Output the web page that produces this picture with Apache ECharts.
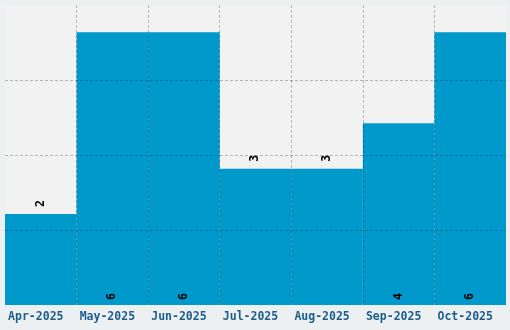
<!DOCTYPE html>
<html><head><meta charset="utf-8">
<script src="https://cdn.jsdelivr.net/npm/echarts@6/dist/echarts.min.js"></script>
<style>html,body{margin:0;padding:0;background:#edf0f1;}#c{width:510px;height:330px;}</style>
</head><body><div id="c"></div>
<script>
const categories = ['Apr-2025','May-2025','Jun-2025','Jul-2025','Aug-2025','Sep-2025','Oct-2025'];
const values = [2, 6, 6, 3, 3, 4, 6];
const labelPositions = ['top','insideBottom','insideBottom','top','top','insideBottom','insideBottom'];

const chart = echarts.init(document.getElementById('c'), null, {renderer:'canvas'});
const gridLine = {show:true, showMinLine:false, showMaxLine:false,
  lineStyle:{color:'rgba(0,0,0,0.25)', type:[3,2], width:1}};
chart.setOption({
  backgroundColor:'#edf0f1',
  animation:false,
  grid:{left:5, right:4, top:5, bottom:25, show:true, backgroundColor:'#f2f2f2', borderWidth:0},
  xAxis:{type:'category', data:categories, z:10,
    axisLine:{show:false}, axisTick:{show:false},
    splitLine:gridLine,
    axisLabel:{color:'#1b5e8c', fontFamily:'DejaVu Sans Mono', fontWeight:'bold', fontSize:11.5, margin:6, interval:0, padding:[0,10,0,0]}},
  yAxis:{type:'value', min:0, max:6.6, interval:1.65, z:10,
    axisLine:{show:false}, axisTick:{show:false}, axisLabel:{show:false},
    splitLine:gridLine},
  series:[{type:'bar', barCategoryGap:'0%', itemStyle:{color:'#0099cc'},
    data: values.map((v,i)=>({value:v, label:{position:labelPositions[i], distance: labelPositions[i]==='top'?7:5}})),
    label:{show:true, rotate:90, align:'left', verticalAlign:'middle', color:'#000', fontFamily:'DejaVu Sans Mono', fontWeight:'bold', fontSize:11.5}}]
});
</script></body></html>
